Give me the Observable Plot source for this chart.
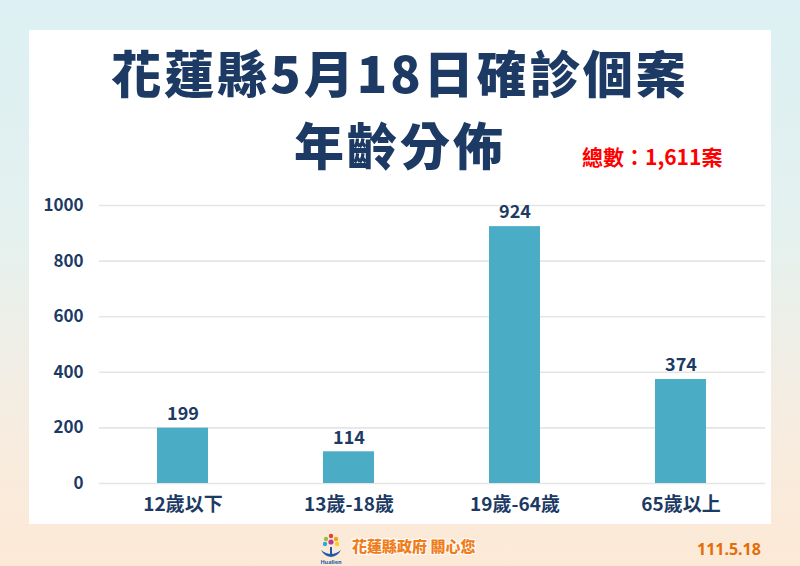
<!DOCTYPE html>
<html><head><meta charset="utf-8">
<script src="https://cdn.jsdelivr.net/npm/d3@7"></script>
<script src="https://cdn.jsdelivr.net/npm/@observablehq/plot@0.6"></script>
<style>
html,body{margin:0;padding:0;}
#page{position:relative;width:800px;height:566px;overflow:hidden;
 background:linear-gradient(180deg,#dcf0f3 0%,#e4f1ef 40%,#f6ece0 75%,#fde9d6 100%);
 font-family:"Noto Sans CJK TC","Noto Sans",sans-serif;}
#panel{position:absolute;left:29px;top:30px;width:742px;height:494px;background:#fff;}
.t{position:absolute;left:0;width:800px;text-align:center;color:#1c3a63;font-weight:900;font-size:50px;letter-spacing:3px;line-height:1;}
#total{position:absolute;left:582px;top:146px;color:#ff0000;font-weight:700;font-size:21px;line-height:1;}
#chart{position:absolute;left:0;top:180px;}
#footer{position:absolute;left:352px;top:538px;font-size:15px;font-weight:900;color:#ef7d1a;line-height:1;
 text-shadow:-1px -1px 0 #fff,1px -1px 0 #fff,-1px 1px 0 #fff,1px 1px 0 #fff;}
#date{position:absolute;left:697px;top:541px;font-size:16px;font-weight:700;color:#e46c0a;font-family:"Noto Sans",sans-serif;line-height:1;}
#logo{position:absolute;left:318px;top:532px;width:26px;height:34px;}
</style></head>
<body>
<div id="page">
 <div id="panel"></div>
 <div class="t" style="top:46px">花蓮縣5月18日確診個案</div>
 <div class="t" style="top:118px">年齡分佈</div>
 <div id="total">總數：1,611案</div>
 <div id="chart"></div>
 <svg id="logo" viewBox="0 0 26 34">
  <circle cx="13" cy="4" r="2.2" fill="#e8412c"/>
  <circle cx="18" cy="7" r="2.2" fill="#f6a11a"/>
  <circle cx="19" cy="12" r="2.2" fill="#f5d21b"/>
  <circle cx="8" cy="7" r="2.2" fill="#8cc63f"/>
  <circle cx="7" cy="12" r="2.2" fill="#2aa7df"/>
  <circle cx="13" cy="10" r="2.6" fill="#c0398f"/>
  <path d="M3 18 Q13 26 23 18 Q20 24 13 25 Q6 24 3 18Z" fill="#1e5aa8"/>
  <rect x="12" y="15" width="2" height="9" fill="#1e5aa8"/>
  <text x="13" y="32" font-size="5.5" text-anchor="middle" fill="#1e5aa8" font-family="Noto Sans" font-weight="700">Hualien</text>
 </svg>
 <div id="footer">花蓮縣政府 關心您</div>
 <div id="date">111.5.18</div>
</div>
<script>
const categories = ["12歲以下","13歲-18歲","19歲-64歲","65歲以上"];
const counts = [199,114,924,374];
const yTicks = [0,200,400,600,800,1000];
const data = categories.map((c,i)=>({group:c,count:counts[i]}));

const chart = Plot.plot({
  width: 800,
  height: 348,
  marginLeft: 99,
  marginRight: 35,
  marginTop: 25,
  marginBottom: 45,
  style:{background:"transparent",fontFamily:"'Noto Sans CJK TC','Noto Sans',sans-serif",color:"#1c3a63"},
  x:{domain:categories,paddingInner:0.69,paddingOuter:0.345,label:null},
  y:{domain:[0,1000],ticks:yTicks,label:null},
  marks:[
    Plot.gridY(yTicks,{stroke:"#e5e5e5",strokeWidth:1.6,strokeOpacity:1}),
    Plot.barY(data,{x:"group",y:"count",fill:"#4bacc6"}),
    Plot.text(data,{x:"group",y:"count",text:d=>String(d.count),dy:-14,fontSize:18,fontWeight:700,fill:"#1c3a63"}),
    Plot.axisY(yTicks,{tickSize:0,tickPadding:16,fontSize:17,fontWeight:700,fill:"#1c3a63",label:null,tickFormat:d=>String(d)}),
    Plot.axisX({tickSize:0,tickPadding:14,fontSize:19,fontWeight:700,fill:"#1c3a63",label:null})
  ]
});
document.getElementById("chart").appendChild(chart);
</script>
</body></html>
